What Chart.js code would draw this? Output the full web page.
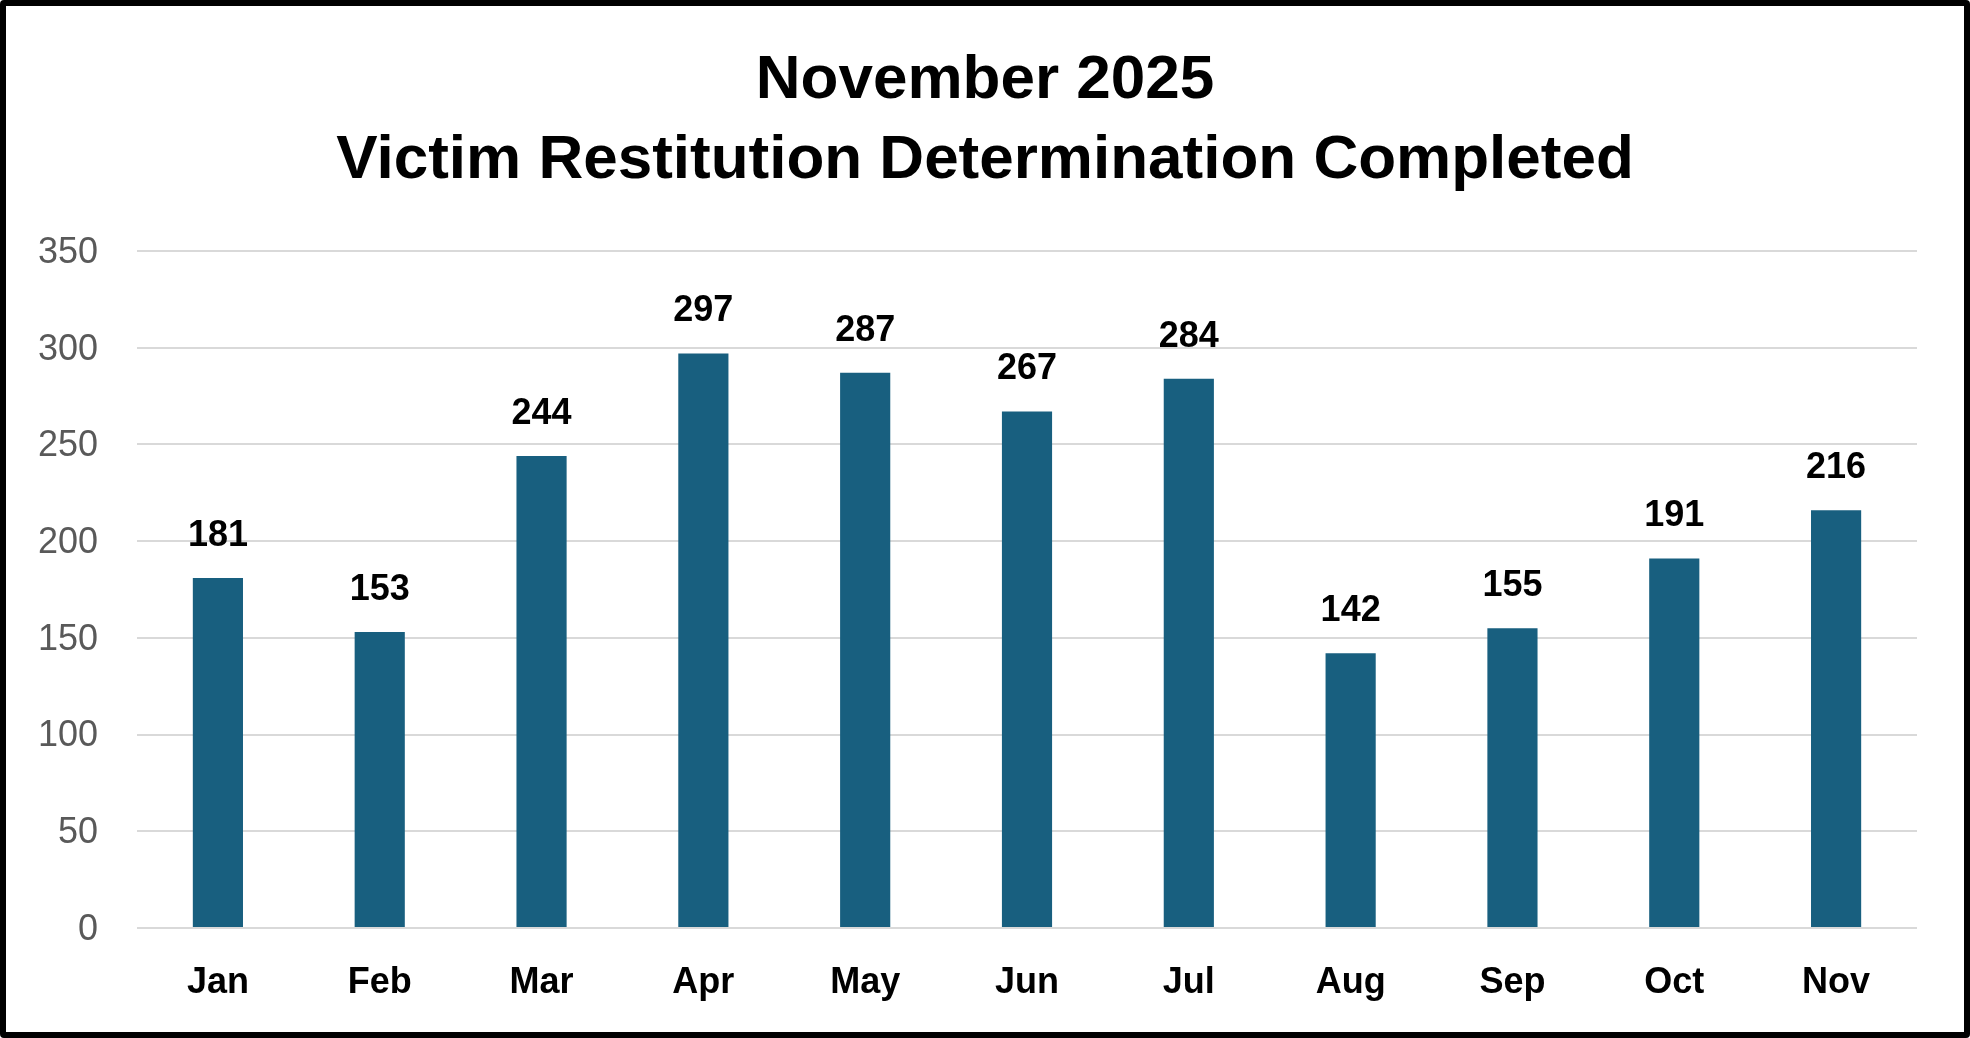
<!DOCTYPE html>
<html>
<head>
<meta charset="utf-8">
<title>Victim Restitution Determination Completed</title>
<script src="https://cdn.jsdelivr.net/npm/chart.js@4.4.1/dist/chart.umd.min.js"></script>
<style>
  html, body { margin: 0; padding: 0; background: #fff; }
  #chartBox {
    width: 1970px;
    height: 1038px;
    box-sizing: border-box;
    border: 6px solid #000;
    border-radius: 4px;
    background: #fff;
  }
  #chart1 { display: block; }
</style>
</head>
<body>
<div id="chartBox">
  <canvas id="chart1" width="1958" height="1026"></canvas>
</div>
<script>
const titleLines = ['November 2025', 'Victim Restitution Determination Completed'];
const months = ['Jan', 'Feb', 'Mar', 'Apr', 'May', 'Jun', 'Jul', 'Aug', 'Sep', 'Oct', 'Nov'];
const completed = [181, 153, 244, 297, 287, 267, 284, 142, 155, 191, 216];
const yMax = 350;
const yStep = 50;

const barColor = '#185F7F';
const gridColor = '#D9D9D9';
const fontName = '"Liberation Sans", Arial, sans-serif';

// value labels on top of each bar (no datalabels plugin offline)
const barValues = {
  id: 'barValues',
  afterDatasetsDraw(chart) {
    const ctx = chart.ctx;
    const meta = chart.getDatasetMeta(0);
    ctx.save();
    ctx.font = 'bold 36px ' + fontName;
    ctx.fillStyle = '#000';
    ctx.textAlign = 'center';
    ctx.textBaseline = 'middle';
    meta.data.forEach((bar, i) => {
      ctx.fillText(completed[i], bar.x, bar.y - 42);
    });
    ctx.restore();
  }
};

var ctx = document.getElementById('chart1');
var myChart = new Chart(ctx, {
  type: 'bar',
  data: {
    labels: months,
    datasets: [{
      label: 'Completed',
      data: completed,
      backgroundColor: barColor,
      borderWidth: 0,
      barPercentage: 0.31,
      categoryPercentage: 1
    }]
  },
  options: {
    responsive: false,
    animation: false,
    layout: {
      padding: { top: 35, left: 0, right: 0, bottom: 0 }
    },
    scales: {
      x: {
        grid: { display: false, drawTicks: false },
        border: { display: false },
        ticks: {
          color: '#000',
          padding: 33,
          font: { family: fontName, size: 36, weight: 'bold' }
        },
        afterFit: function (scale) { scale.height = 104; }
      },
      y: {
        min: 0,
        max: yMax,
        ticks: {
          stepSize: yStep,
          color: '#595959',
          padding: 39,
          labelOffset: 2,
          font: { family: fontName, size: 36 }
        },
        grid: { color: gridColor, lineWidth: 2, drawTicks: false },
        border: { display: false },
        afterFit: function (scale) { scale.width = 131; }
      },
      // empty right axis, only keeps the right margin so the title stays centred
      yRight: {
        position: 'right',
        min: 0,
        max: yMax,
        grid: { display: false, drawTicks: false },
        border: { display: false },
        ticks: { display: false },
        afterFit: function (scale) { scale.width = 47; }
      }
    },
    plugins: {
      legend: { display: false },
      tooltip: { enabled: false },
      title: {
        display: true,
        text: titleLines,
        color: '#000',
        padding: { top: 0, bottom: 50 },
        font: { family: fontName, size: 62, weight: 'bold', lineHeight: '80px' }
      }
    }
  },
  plugins: [barValues]
});
</script>
</body>
</html>
